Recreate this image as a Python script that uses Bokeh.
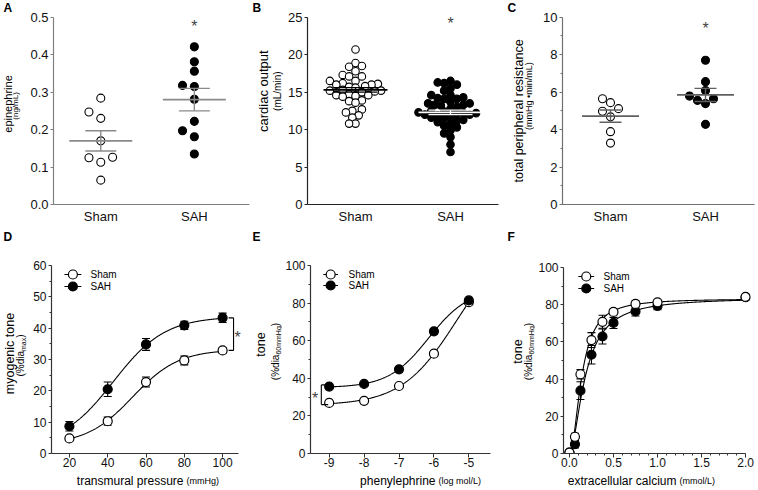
import numpy as np
from bokeh.plotting import figure
from bokeh.layouts import column, row
from bokeh.models import (FixedTicker, Label, Whisker, TeeHead, ColumnDataSource,
                          Range1d, PrintfTickFormatter)
from bokeh.core.properties import value
from bokeh.embed import file_html
from bokeh.resources import INLINE

FONT = "Liberation Sans"

# ---------------- data ----------------
groups = ["Sham", "SAH"]

epi_sham = [0.284, 0.247, 0.230, 0.170, 0.126, 0.113, 0.125, 0.065]
epi_sah = [0.421, 0.381, 0.356, 0.318, 0.315, 0.281, 0.222, 0.197, 0.181, 0.135]
epi_mean = [0.170, 0.280]
epi_sem = [0.027, 0.030]
epi_star = 0.484

co_sham = [20.7, 18.9, 18.5, 18.4, 17.8, 17.3, 17.1, 17.1, 16.5, 16.5, 16.2, 16.1,
           16.0, 16.0, 15.8, 15.7, 15.6, 15.3, 15.2, 15.2, 15.1, 15.0, 14.7, 14.6,
           14.6, 14.5, 14.4, 13.9, 13.8, 13.6, 12.7, 12.5, 12.3, 11.9, 11.6, 10.8, 10.8]
co_sah = [16.5, 16.3, 16.2, 16.0, 15.5, 15.2, 14.6, 14.6, 14.3, 14.2, 14.1, 14.1,
          13.7, 13.5, 13.5, 13.3, 13.3, 13.2, 13.0, 12.8, 12.5, 12.4, 12.3, 12.2,
          12.2, 12.1, 12.0, 12.0, 11.9, 11.8, 11.6, 11.5, 11.3, 11.2, 11.0, 10.8,
          10.5, 10.3, 9.9, 9.5, 9.0, 8.0, 7.0]
co_mean = [15.3, 12.3]
co_sem = [0.3, 0.3]
co_star = 24.6

tpr_sham = [5.65, 5.44, 5.12, 4.98, 4.68, 3.89, 3.28]
tpr_sah = [7.70, 6.56, 6.09, 5.79, 5.65, 5.56, 5.39, 4.28]
tpr_mean = [4.72, 5.85]
tpr_sem = [0.33, 0.35]
tpr_star = 9.6

pressure = [20, 40, 60, 80, 100]
myo_sham = [4.8, 10.3, 22.8, 29.7, 32.9]
myo_sham_sem = [0.6, 1.3, 1.6, 1.4, 0.8]
myo_sah = [8.7, 20.5, 34.8, 40.9, 43.3]
myo_sah_sem = [1.5, 2.3, 1.9, 1.3, 1.5]

phe_log = [-9, -8, -7, -6, -5]
phe_sham = [26.9, 28.0, 35.9, 53.1, 80.5]
phe_sham_sem = [1.0, 1.0, 1.2, 1.5, 1.2]
phe_sah = [35.6, 37.0, 44.8, 65.0, 81.4]
phe_sah_sem = [1.2, 1.0, 1.3, 1.4, 1.0]

calcium = [0, 0.0625, 0.125, 0.25, 0.375, 0.5, 0.75, 1.0, 2.0]
ca_sham = [0.5, 9.0, 42.6, 61.0, 70.8, 76.1, 80.4, 81.3, 84.2]
ca_sham_sem = [0.3, 1.8, 2.5, 4.0, 3.5, 1.5, 1.6, 1.2, 0.8]
ca_sah = [0.5, 5.0, 33.8, 53.1, 62.9, 70.2, 76.4, 79.3, 84.0]
ca_sah_sem = [0.3, 2.0, 4.8, 5.0, 4.0, 3.0, 2.5, 2.0, 0.8]

# ---------------- helpers ----------------
AW = {' ': .278, '(': .333, ')': .333, '%': .889, '/': .278, '\u2022': .35, '-': .333,
      '.': .278, 'a': .556, 'b': .556, 'c': .5, 'd': .556, 'e': .556, 'f': .278,
      'g': .556, 'h': .556, 'i': .222, 'j': .222, 'k': .5, 'l': .222, 'm': .833,
      'n': .556, 'o': .556, 'p': .556, 'q': .556, 'r': .333, 's': .5, 't': .278,
      'u': .556, 'v': .5, 'w': .722, 'x': .5, 'y': .5, 'z': .5, 'H': .722, 'L': .556}


def text_w(t, size):
    return sum(AW.get(c, .556) for c in t) * size


def strip(page_x, page_y, w, h, top=0, bottom=0):
    # a text-only figure whose data coordinates are page pixels (y negated)
    p = figure(width=w, height=h,
               x_range=Range1d(page_x, page_x + w),
               y_range=Range1d(-(page_y + h - bottom), -(page_y + top)),
               output_backend="svg", toolbar_location=None,
               x_axis_location=None, y_axis_location=None,
               min_border_left=0, min_border_right=0,
               min_border_top=top, min_border_bottom=bottom)
    p.outline_line_color = None
    p.grid.visible = False
    return p


def stext(p, x, y, text, size, align="center", baseline="middle", angle=0.0, bold=False):
    p.text(x=[x], y=[-y], text=[text], angle=angle,
           text_font=value(FONT), text_font_size=value(f"{size}px"),
           text_align=value(align), text_baseline=value(baseline),
           text_font_style=value("bold" if bold else "normal"), text_color="black")


def vtext_parts(p, x, yc, parts):
    total = sum(text_w(t, s) for t, s, sub in parts)
    y = yc + total / 2.0
    for t, s, sub in parts:
        stext(p, x + (2.5 if sub else 0), y, t, s, align="left", angle=np.pi / 2)
        y -= text_w(t, s)


def make_panel(page_x, page_y, fig_w, fig_h, fl, ft, fr, fb, xr, yr, axis_color):
    left, top = fl - page_x, ft - page_y
    fw, fh = fr - fl, fb - ft
    right, bottom = fig_w - left - fw, fig_h - top - fh
    p = figure(width=fig_w, height=fig_h, x_range=Range1d(*xr), y_range=Range1d(*yr),
               output_backend="svg", toolbar_location=None,
               min_border_left=left, min_border_right=right,
               min_border_top=top, min_border_bottom=bottom)
    p.outline_line_color = None
    p.grid.visible = False
    for ax in (p.xaxis[0], p.yaxis[0]):
        ax.axis_line_color = axis_color
        ax.axis_line_width = 1.2
        ax.major_tick_line_color = axis_color
        ax.minor_tick_line_color = axis_color
        ax.major_tick_in = 0
        ax.minor_tick_in = 0
        ax.major_tick_out = 3
        ax.minor_tick_out = 2
        ax.major_label_text_font = FONT
        ax.major_label_text_color = "#111111"
    geo = dict(fl=fl, fb=fb, ft=ft, fr=fr, x0=xr[0], y0=yr[0],
               px=fw / (xr[1] - xr[0]), py=fh / (yr[1] - yr[0]))
    return p, geo


def flabel(p, geo, x, y, text, size, align="center", baseline="middle"):
    p.add_layout(Label(x=x - geo["fl"], y=geo["fb"] - y, x_units="screen", y_units="screen",
                       text=text, text_font=FONT, text_font_size=f"{size}px",
                       text_align=align, text_baseline=baseline, text_color="black"))


def star(p, geo, x, y, x_off=0):
    # shift so that the asterisk glyph (which sits high in its em box) is centred on y
    p.add_layout(Label(x=x, y=y - 3.6 / geo["py"], x_offset=x_off, text="*", text_font=FONT,
                       text_font_size="16px", text_align="center", text_baseline="middle"))


def swarm(vals, center, geo, d, step):
    vals = np.asarray(vals, dtype=float)
    placed = []
    out = np.zeros(len(vals))
    for i in np.argsort(vals, kind="stable"):
        yv = vals[i] * geo["py"]
        k = 0
        chosen = None
        while chosen is None:
            cands = [0.0] if k == 0 else [-k * step, k * step]
            for c in cands:
                if all((c - a) ** 2 + (yv - b) ** 2 >= d * d - 1e-6 for a, b in placed):
                    chosen = c
                    break
            k += 1
        placed.append((chosen, yv))
        out[i] = center + chosen / geo["px"]
    return out


def fit_curve(x, y, sfun, g1, g2):
    x = np.asarray(x, float)
    y = np.asarray(y, float)
    best = None
    for a in g1:
        for b in g2:
            s = sfun(x, a, b)
            A = np.vstack([np.ones_like(s), s]).T
            coef = np.linalg.lstsq(A, y, rcond=None)[0]
            r = float(np.sum((A @ coef - y) ** 2))
            if best is None or r < best[0]:
                best = (r, a, b, coef)
    _, a, b, coef = best
    return lambda xx: coef[0] + coef[1] * sfun(np.asarray(xx, float), a, b)


def dot_panel(p, geo, sham, sah, means, sems, star_y, colors, d, step, size, mean_w, cap_w):
    for gi, (vals, fill) in enumerate([(sham, "white"), (sah, "black")]):
        xs = swarm(vals, gi + 1, geo, d, step)
        p.scatter(xs, vals, size=size, fill_color=fill, line_color="black", line_width=1.1)
    for gi in range(2):
        col = colors[gi]
        p.scatter([gi + 1], [means[gi]], marker="dash", size=mean_w, line_color=col,
                  line_width=1.8)
        src = ColumnDataSource(dict(base=[gi + 1], upper=[means[gi] + sems[gi]],
                                    lower=[means[gi] - sems[gi]]))
        p.add_layout(Whisker(source=src, base="base", upper="upper", lower="lower",
                             line_color=col, line_width=1.4, level="annotation",
                             upper_head=TeeHead(size=cap_w, line_color=col, line_width=1.4),
                             lower_head=TeeHead(size=cap_w, line_color=col, line_width=1.4)))
    star(p, geo, 2, star_y)
    p.xaxis.ticker = FixedTicker(ticks=[1, 2])
    p.xaxis.major_label_overrides = {1: groups[0], 2: groups[1]}
    p.xaxis.major_tick_out = 0
    p.xaxis.major_label_standoff = 4
    p.xaxis.major_label_text_font_size = "13px"
    p.yaxis.major_label_text_font_size = "13px"
    p.yaxis.major_label_standoff = 2


def curve_panel(p, geo, x, series, sfun, g1, g2, size, legend_geo):
    for name, m, s, fill in series:
        f = fit_curve(x, m, sfun, g1, g2)
        xx = np.linspace(min(x), max(x), 300)
        p.line(xx, f(xx), line_color="black", line_width=1.1)
        src = ColumnDataSource(dict(base=list(x), upper=list(np.add(m, s)),
                                    lower=list(np.subtract(m, s))))
        p.add_layout(Whisker(source=src, base="base", upper="upper", lower="lower",
                             line_color="black", line_width=1.1, level="underlay",
                             upper_head=TeeHead(size=8, line_color="black", line_width=1.1),
                             lower_head=TeeHead(size=8, line_color="black", line_width=1.1)))
    for name, m, s, fill in series:
        p.scatter(x, m, size=size, fill_color=fill, line_color="black", line_width=1.2)
    # legend laid out in page pixels, converted through the panel scales
    gx0, gx1, tx, rows = legend_geo
    fills = {"Sham": "white", "SAH": "black"}
    for name, ry in zip(groups, rows):
        xa = geo["x0"] + (gx0 - geo["fl"]) / geo["px"]
        xb = geo["x0"] + (gx1 - geo["fl"]) / geo["px"]
        yv = geo["y0"] + (geo["fb"] - ry) / geo["py"]
        p.segment([xa], [yv], [xb], [yv], line_color="black", line_width=1.1)
        p.scatter([(xa + xb) / 2], [yv], size=size, fill_color=fills[name],
                  line_color="black", line_width=1.2)
        flabel(p, geo, tx, ry, name, 10, align="left")
    p.xaxis.major_label_text_font_size = "12px"
    p.yaxis.major_label_text_font_size = "12px"
    p.xaxis.major_tick_out = 4
    p.xaxis.major_label_standoff = 0
    p.yaxis.major_label_standoff = 2


def hill(xv, k, n):
    xv = np.maximum(xv, 0)
    return xv ** n / (k ** n + xv ** n)


def logistic(xv, c, w):
    return 1.0 / (1.0 + np.exp(-(xv - c) / w))


def logdose(xv, c, h):
    return 1.0 / (1.0 + 10.0 ** ((c - xv) * h))


PI2 = np.pi / 2
R1_H, R2_Y, R2_H = 226, 245, 226

# ================= row 1 (page y 0..226, frames 0..207) =================
sA = strip(0, 0, 27, R1_H, 0, 19)
stext(sA, 3, 0, "A", 12, align="left", baseline="top", bold=True)
stext(sA, 7, 105, "epinephrine", 11, angle=PI2)
stext(sA, 15, 107, "(ng/mL)", 8, angle=PI2)

pA, gA = make_panel(27, 0, 223, R1_H, 50, 0, 249, 207, (0.4947, 2.5895), (0, 0.5447), "#808080")
dot_panel(pA, gA, epi_sham, epi_sah, epi_mean, epi_sem, epi_star, ["#8a8a8a", "#8a8a8a"],
          d=9, step=12, size=8, mean_w=63, cap_w=31)
pA.yaxis.ticker = FixedTicker(ticks=[0, 0.1, 0.2, 0.3, 0.4, 0.5])
pA.yaxis.formatter = PrintfTickFormatter(format="%.1f")
pA.yaxis.bounds = (0, 0.5)

sB = strip(250, 0, 35, R1_H, 0, 19)
stext(sB, 252, 0, "B", 12, align="left", baseline="top", bold=True)
stext(sB, 263, 92, "cardiac output", 13, angle=PI2)
stext(sB, 277, 92, "(mL/min)", 10, angle=PI2)

pB, gB = make_panel(285, 0, 220, R1_H, 307, 0, 498, 207, (0.4947, 2.5053), (0, 27.237), "#222222")
dot_panel(pB, gB, co_sham, co_sah, co_mean, co_sem, co_star, ["black", "white"],
          d=6.4, step=3.2, size=7.5, mean_w=64, cap_w=44)
pB.yaxis.ticker = FixedTicker(ticks=[0, 5, 10, 15, 20, 25])
pB.yaxis.bounds = (0, 25)

sC = strip(505, 0, 29, R1_H, 0, 19)
stext(sC, 507, 0, "C", 12, align="left", baseline="top", bold=True)
stext(sC, 518, 112, "total peripheral resistance", 12.5, angle=PI2)
stext(sC, 528, 97, "(mmHg \u2022min/mL)", 9, angle=PI2)

pC, gC = make_panel(534, 0, 222, R1_H, 562, 0, 754, 207, (0.4947, 2.5158), (0, 10.895), "#707070")
dot_panel(pC, gC, tpr_sham, tpr_sah, tpr_mean, tpr_sem, tpr_star, ["#606060", "#606060"],
          d=8.5, step=8, size=8, mean_w=57, cap_w=22)
pC.yaxis.ticker = FixedTicker(ticks=[0, 2, 4, 6, 8, 10], minor_ticks=[1, 3, 5, 7, 9])
pC.yaxis.bounds = (0, 10)

# ---- panel letters of the second row (strip between the rows) ----
sM = strip(0, R1_H, 756, R2_Y - R1_H)
for lx, letter in [(3, "D"), (252, "E"), (507, "F")]:
    stext(sM, lx, 229.5, letter, 12, align="left", baseline="top", bold=True)

# ================= row 2 (page y 245..471, frames 245..453) =================
sD = strip(0, R2_Y, 30, R2_H, 0, 18)
stext(sD, 9.5, 353, "myogenic tone", 12.5, angle=PI2)
vtext_parts(sD, 20, 355, [("(%dia", 10, False), ("max", 7, True), (")", 10, False)])

pD, gD = make_panel(30, R2_Y, 220, R2_H, 50, 245, 242, 453, (10.65, 110.39), (0, 66.383), "#333333")
curve_panel(pD, gD, pressure,
            [("Sham", myo_sham, myo_sham_sem, "white"), ("SAH", myo_sah, myo_sah_sem, "black")],
            logistic, np.linspace(20, 100, 81), np.linspace(3, 40, 75), 9,
            (63, 80, 89, [274, 286]))
pD.xaxis.ticker = FixedTicker(ticks=pressure)
pD.xaxis.bounds = (10.65, 108.3)
pD.yaxis.bounds = (0, 60)
pD.yaxis.ticker = FixedTicker(ticks=[0, 10, 20, 30, 40, 50, 60],
                              minor_ticks=[5, 15, 25, 35, 45, 55])
xb = pressure[-1] + 11 / gD["px"]
xt = pressure[-1] + 6 / gD["px"]
pD.segment([xb, xt, xt], [myo_sham[-1], myo_sham[-1], myo_sah[-1]],
           [xb, xb, xb], [myo_sah[-1], myo_sham[-1], myo_sah[-1]],
           line_color="black", line_width=1.1)
star(pD, gD, pressure[-1], (myo_sham[-1] + myo_sah[-1]) / 2, x_off=15)

sE = strip(250, R2_Y, 32, R2_H, 0, 18)
stext(sE, 260, 344, "tone", 12.5, angle=PI2)
vtext_parts(sE, 275, 351, [("(%dia", 10, False), ("60mmHg", 7, True), (")", 10, False)])

pE, gE = make_panel(282, R2_Y, 223, R2_H, 307, 245, 490, 453, (-9.535, -4.38), (0, 110.638), "#333333")
curve_panel(pE, gE, phe_log,
            [("Sham", phe_sham, phe_sham_sem, "white"), ("SAH", phe_sah, phe_sah_sem, "black")],
            logdose, np.linspace(-8, -3, 101), np.linspace(0.3, 3, 55), 9,
            (320, 335, 345, [274, 285]))
pE.xaxis.ticker = FixedTicker(ticks=phe_log)
pE.xaxis.formatter = PrintfTickFormatter(format="%d")
pE.yaxis.bounds = (0, 100)
pE.yaxis.ticker = FixedTicker(ticks=[0, 20, 40, 60, 80, 100], minor_ticks=[10, 30, 50, 70, 90])
xb = phe_log[0] - 8 / gE["px"]
xt = phe_log[0] - 1 / gE["px"]
pE.segment([xb, xb, xb], [phe_sham[0] - 0.9, phe_sham[0] - 0.9, phe_sah[0] + 0.9],
           [xb, xt, xt], [phe_sah[0] + 0.9, phe_sham[0] - 0.9, phe_sah[0] + 0.9],
           line_color="black", line_width=1.1)
star(pE, gE, phe_log[0], (phe_sham[0] + phe_sah[0]) / 2, x_off=-14)

sF = strip(505, R2_Y, 30, R2_H, 0, 18)
stext(sF, 517, 351, "tone", 12.5, angle=PI2)
vtext_parts(sF, 528, 351, [("(%dia", 10, False), ("60mmHg", 7, True), (")", 10, False)])

pF, gF = make_panel(535, R2_Y, 221, R2_H, 561, 245, 750, 453, (-0.0674, 2.056), (0, 111.83), "#333333")
curve_panel(pF, gF, calcium,
            [("SAH", ca_sah, ca_sah_sem, "black"), ("Sham", ca_sham, ca_sham_sem, "white")],
            hill, np.linspace(0.05, 0.8, 76), np.linspace(0.8, 4, 65), 9,
            (576, 592, 601, [276, 288]))
pF.xaxis.ticker = FixedTicker(ticks=[0, 0.5, 1.0, 1.5, 2.0],
                              minor_ticks=[0.1, 0.2, 0.3, 0.4, 0.6, 0.7, 0.8, 0.9, 1.1, 1.2,
                                           1.3, 1.4, 1.6, 1.7, 1.8, 1.9])
pF.xaxis.formatter = PrintfTickFormatter(format="%.1f")
pF.xaxis.bounds = (-0.0674, 2.0)
pF.yaxis.bounds = (0, 100)
pF.yaxis.ticker = FixedTicker(ticks=[0, 20, 40, 60, 80, 100], minor_ticks=[10, 30, 50, 70, 90])

# ---- x-axis titles (bottom strip) ----
sX = strip(0, R2_Y + R2_H, 756, 17)
for right_x, main, unit in [(183, "transmural pressure", "(mmHg)"),
                            (435, "phenylephrine", "(log mol/L)"),
                            (676, "extracellular calcium", "(mmol/L)")]:
    stext(sX, right_x, 480, main, 12, align="right", baseline="alphabetic")
    stext(sX, right_x + 3, 480, unit, 9, align="left", baseline="alphabetic")

layout = column(row(sA, pA, sB, pB, sC, pC),
                sM,
                row(sD, pD, sE, pE, sF, pF),
                sX)
open("out.html", "w").write(file_html(layout, INLINE))
